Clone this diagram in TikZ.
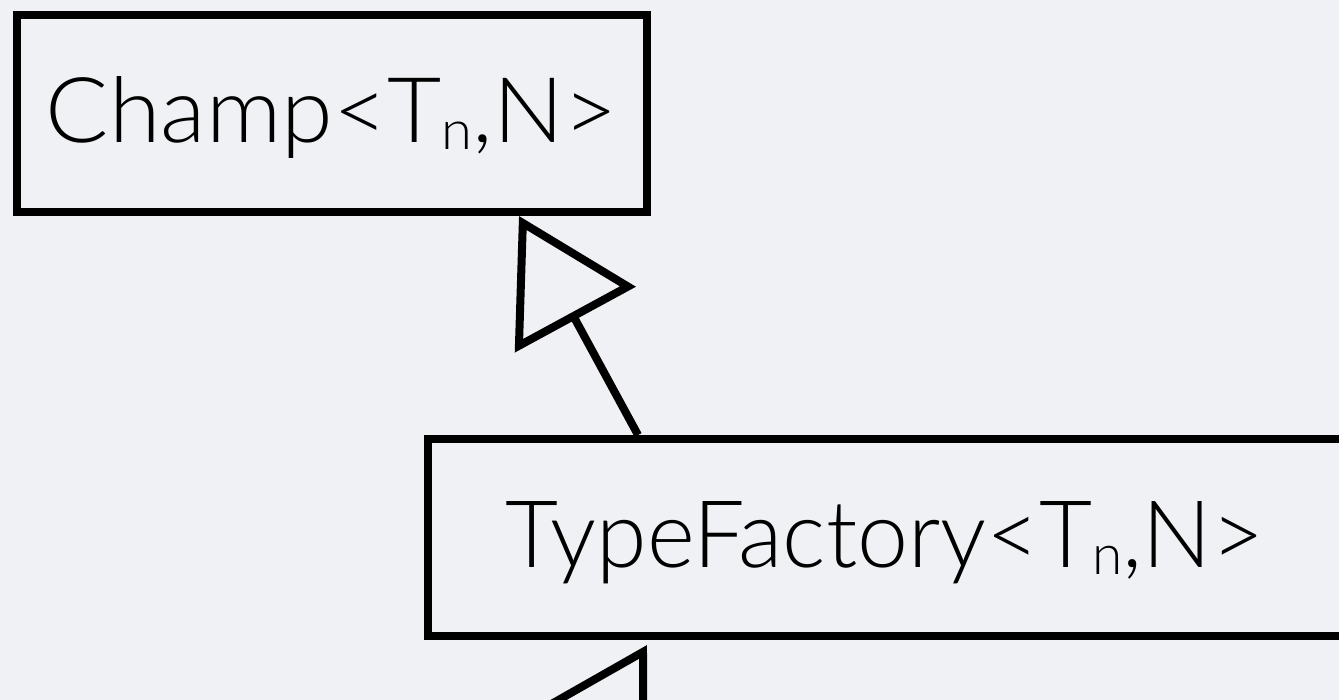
\documentclass[tikz,border=0pt]{standalone}
\usepackage{fontspec}
\usepackage{graphicx}
\IfFontExistsTF{Lato Light}{\setmainfont{Lato Light}}{\setmainfont{Lato}}
\usetikzlibrary{arrows.meta}
\definecolor{bg}{RGB}{240,241,244}
\newcommand\subn{\raisebox{-7pt}{\scalebox{0.6}{n}}}
\begin{document}
\begin{tikzpicture}[x=1pt,y=-1pt,
  umlbox/.style={draw=black, line width=8pt, inner sep=0pt, text height=67pt, text depth=8pt, align=center},
  inherit/.style={draw=black, line width=8pt, line join=miter, -{Triangle[open,length=118pt,width=136pt]}}]
\useasboundingbox (0,0) rectangle (1339,700);
\fill[bg] (0,0) rectangle (1339,700);
\clip (0,0) rectangle (1339,700);
\node[umlbox, minimum width=630pt, minimum height=197pt] (champ) at (332,113.5)
  {\resizebox{572pt}{66pt}{\fontsize{92pt}{100pt}\selectfont Champ<T\subn,N>}};
\node[umlbox, minimum width=915pt, minimum height=197pt] (tf) at (885.5,537.5)
  {\resizebox{759pt}{66pt}{\fontsize{92pt}{100pt}\selectfont TypeFactory<T\subn,N>}};
\coordinate (lower) at (499,901);
\draw[inherit] ([xshift=214pt]tf.north west) -- ([xshift=506pt]champ.south west);
\draw[inherit] (lower) -- ([xshift=223pt,yshift=-5pt]tf.south west);
\end{tikzpicture}
\end{document}
